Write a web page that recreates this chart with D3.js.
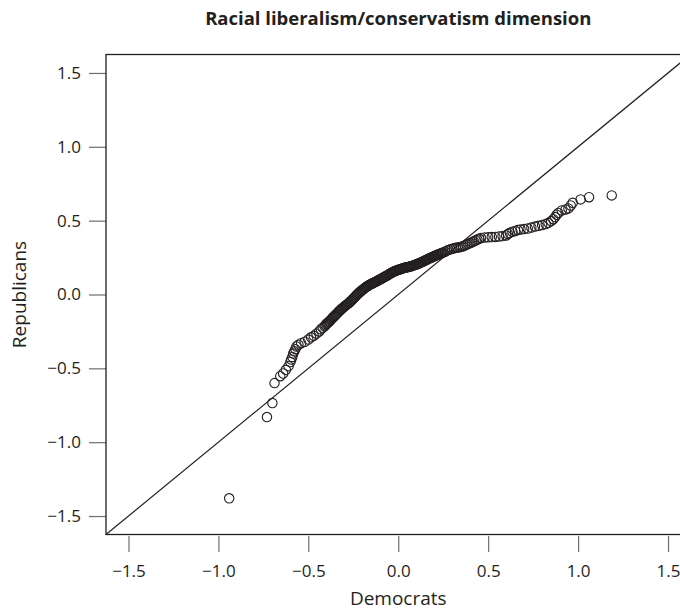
<!DOCTYPE html>
<html>
<head>
<meta charset="utf-8">
<script src="https://cdn.jsdelivr.net/npm/d3@7"></script>
<style>
body { margin: 0; background: #fff; }
text { font-family: "Open Sans", "Noto Sans", sans-serif; fill: #231f20; }
</style>
</head>
<body>
<script>
// quantiles (Democrats on x, Republicans on y)
var democrats = [
  -0.94, -0.73, -0.70, -0.688,
  -0.656, -0.64, -0.625, -0.61, -0.60, -0.595, -0.589, -0.584, -0.578, -0.572, -0.566,
  -0.555, -0.54, -0.52, -0.50, -0.485, -0.47, -0.455, -0.44, -0.43, -0.42,
  -0.41, -0.405, -0.40, -0.395, -0.39, -0.385, -0.38, -0.375, -0.37, -0.365,
  -0.36, -0.355, -0.35, -0.345, -0.34, -0.335, -0.33, -0.325, -0.32, -0.315,
  -0.31, -0.305, -0.30, -0.295, -0.29, -0.285, -0.28, -0.275, -0.27, -0.265,
  -0.26, -0.255, -0.25, -0.245, -0.24, -0.235, -0.23, -0.225, -0.22, -0.215,
  -0.21, -0.205, -0.20, -0.195, -0.19, -0.185, -0.18, -0.175, -0.17, -0.165,
  -0.16, -0.155, -0.15, -0.145, -0.14, -0.135, -0.13, -0.125, -0.12, -0.115,
  -0.11, -0.105, -0.10, -0.095, -0.09, -0.085, -0.08, -0.075, -0.07, -0.065,
  -0.06, -0.055, -0.05, -0.045, -0.04, -0.035, -0.03, -0.025, -0.02, -0.015,
  -0.01, -0.005, 0.00, 0.005, 0.01, 0.015, 0.02, 0.025, 0.03, 0.035,
  0.04, 0.045, 0.05, 0.055, 0.06, 0.065, 0.07, 0.075, 0.08, 0.085,
  0.09, 0.095, 0.10, 0.105, 0.11, 0.115, 0.12, 0.125, 0.13, 0.135,
  0.14, 0.145, 0.15, 0.155, 0.16, 0.165, 0.17, 0.175, 0.18, 0.185,
  0.19, 0.195, 0.20, 0.205, 0.21, 0.215, 0.22, 0.225, 0.23, 0.235,
  0.24, 0.245,
  0.25, 0.26, 0.27, 0.28, 0.29, 0.30, 0.31, 0.32, 0.33, 0.34,
  0.35, 0.36, 0.37, 0.38, 0.39, 0.40, 0.41, 0.42, 0.43, 0.44, 0.45,
  0.46, 0.48, 0.50, 0.52, 0.54, 0.56, 0.58, 0.60, 0.61, 0.62,
  0.635, 0.65, 0.665, 0.68, 0.70, 0.72, 0.74, 0.76, 0.78, 0.80,
  0.82, 0.835, 0.85, 0.862, 0.872, 0.881, 0.89, 0.909, 0.93, 0.946,
  0.959, 0.97, 1.014, 1.061, 1.187
];
var republicans = [
  -1.38, -0.83, -0.735, -0.60,
  -0.553, -0.535, -0.51, -0.485, -0.457, -0.44, -0.423, -0.40, -0.385, -0.37, -0.352,
  -0.34, -0.33, -0.32, -0.305, -0.29, -0.28, -0.265, -0.25, -0.235, -0.225,
  -0.215, -0.208, -0.20, -0.195, -0.19, -0.184, -0.178, -0.172, -0.165, -0.158,
  -0.152, -0.146, -0.14, -0.134, -0.128, -0.121, -0.115, -0.109, -0.103, -0.097,
  -0.092, -0.087, -0.082, -0.077, -0.072, -0.067, -0.062, -0.057, -0.052, -0.046,
  -0.04, -0.034, -0.028, -0.021, -0.015, -0.008, -0.002, 0.004, 0.01, 0.015,
  0.02, 0.025, 0.03, 0.035, 0.04, 0.045, 0.05, 0.054, 0.058, 0.062,
  0.065, 0.069, 0.072, 0.075, 0.078, 0.081, 0.084, 0.087, 0.09, 0.094,
  0.097, 0.10, 0.103, 0.107, 0.11, 0.114, 0.117, 0.121, 0.124, 0.127,
  0.13, 0.134, 0.138, 0.142, 0.145, 0.149, 0.152, 0.155, 0.158, 0.161,
  0.163, 0.165, 0.167, 0.169, 0.171, 0.173, 0.175, 0.177, 0.179, 0.181,
  0.182, 0.184, 0.185, 0.187, 0.188, 0.19, 0.191, 0.193, 0.195, 0.197,
  0.199, 0.201, 0.203, 0.206, 0.208, 0.211, 0.213, 0.216, 0.219, 0.222,
  0.225, 0.228, 0.231, 0.234, 0.237, 0.24, 0.243, 0.246, 0.248, 0.251,
  0.254, 0.257, 0.259, 0.262, 0.265, 0.268, 0.27, 0.273, 0.275, 0.278,
  0.28, 0.283,
  0.285, 0.29, 0.297, 0.302, 0.306, 0.31, 0.313, 0.316, 0.318, 0.32,
  0.323, 0.327, 0.332, 0.338, 0.343, 0.348, 0.354, 0.36, 0.366, 0.372, 0.377,
  0.383, 0.386, 0.388, 0.389, 0.39, 0.393, 0.396, 0.40, 0.41, 0.418,
  0.425, 0.43, 0.436, 0.44, 0.443, 0.447, 0.453, 0.46, 0.465, 0.47,
  0.477, 0.485, 0.497, 0.51, 0.524, 0.54, 0.552, 0.569, 0.576, 0.583,
  0.603, 0.621, 0.644, 0.659, 0.671
];
var ticks = [-1.5, -1.0, -0.5, 0.0, 0.5, 1.0, 1.5];
var title = "Racial liberalism/conservatism dimension";
var xLabel = "Democrats";
var yLabel = "Republicans";

var width = 680, height = 610;
var plotLeft = 106, plotRight = 690.5, plotTop = 54.5, plotBottom = 534.5;

var svg = d3.select("body").append("svg")
    .attr("width", width)
    .attr("height", height);

var x = d3.scaleLinear().domain([-1.625, 1.625]).range([plotLeft, plotRight]);
var y = d3.scaleLinear().domain([-1.625, 1.625]).range([plotBottom, plotTop]);

var fmt = function(d) { return d3.format(".1f")(d).replace("-", "\u2212"); };

var xAxis = d3.axisBottom(x).tickValues(ticks).tickFormat(fmt)
    .tickSize(16).tickPadding(13);
var yAxis = d3.axisLeft(y).tickValues(ticks).tickFormat(fmt)
    .tickSize(17).tickPadding(8);

svg.append("g")
    .attr("class", "x axis")
    .attr("transform", "translate(0," + (plotBottom + 1.5) + ")")
    .call(xAxis);
svg.append("g")
    .attr("class", "y axis")
    .attr("transform", "translate(" + plotLeft + ",0)")
    .call(yAxis);

svg.selectAll(".axis .domain").remove();
svg.selectAll(".axis line").attr("stroke", "#6d6e71").attr("stroke-width", 1.2);
svg.selectAll(".axis text")
    .attr("font-size", 17)
    .attr("fill", "#231f20")
    .style("font-family", "'Open Sans', sans-serif");

// plot frame
svg.append("rect")
    .attr("x", plotLeft)
    .attr("y", plotTop)
    .attr("width", plotRight - plotLeft)
    .attr("height", plotBottom - plotTop)
    .attr("fill", "none")
    .attr("stroke", "#231f20")
    .attr("stroke-width", 1.3);

// 45 degree reference line
svg.append("line")
    .attr("x1", x(-1.625)).attr("y1", y(-1.625))
    .attr("x2", x(1.625)).attr("y2", y(1.625))
    .attr("stroke", "#231f20")
    .attr("stroke-width", 1.2);

var pts = democrats.map(function(d, i) { return {d: d, r: republicans[i]}; });

svg.append("g").selectAll("circle")
    .data(pts)
    .enter().append("circle")
    .attr("cx", function(p) { return x(p.d); })
    .attr("cy", function(p) { return y(p.r); })
    .attr("r", 4.7)
    .attr("fill", "none")
    .attr("stroke", "#231f20")
    .attr("stroke-width", 1.1);

svg.append("text")
    .attr("x", (plotLeft + plotRight) / 2)
    .attr("y", 25)
    .attr("text-anchor", "middle")
    .attr("font-size", 18.5)
    .attr("font-weight", "bold")
    .text(title);

svg.append("text")
    .attr("x", (plotLeft + plotRight) / 2)
    .attr("y", 605)
    .attr("text-anchor", "middle")
    .attr("font-size", 19)
    .text(xLabel);

svg.append("text")
    .attr("transform", "translate(26," + y(0) + ") rotate(-90)")
    .attr("text-anchor", "middle")
    .attr("font-size", 19)
    .text(yLabel);
</script>
</body>
</html>
